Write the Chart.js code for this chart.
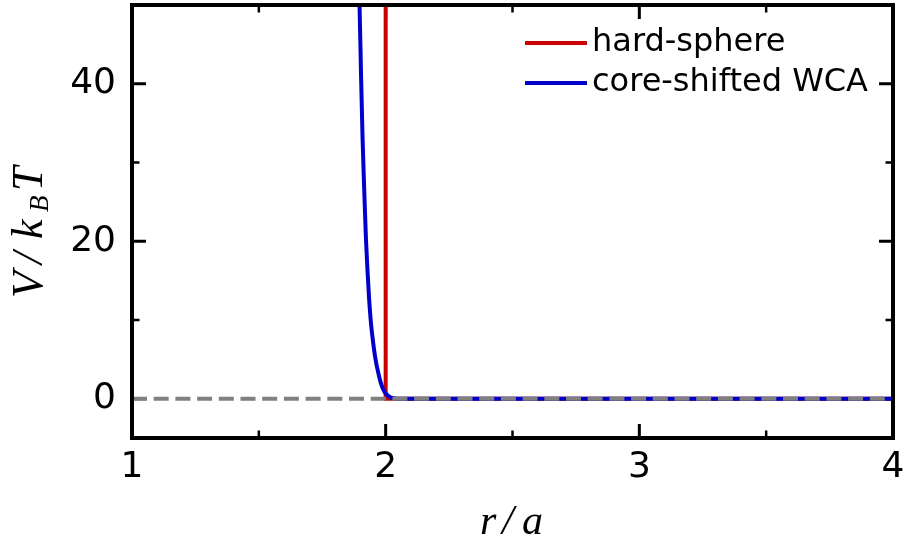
<!DOCTYPE html>
<html lang="en">
<head>
  <meta charset="UTF-8">
  <title>Pair potential</title>
  <script src="https://cdn.jsdelivr.net/npm/chart.js"></script>
  <style>
    html, body { margin: 0; padding: 0; background: #fff; }
    .wrap { width: 906px; height: 550px; }
  </style>
</head>
<body>
<div class="wrap"><canvas id="pot" width="906" height="550"></canvas></div>
<script>
// values
const hsR = [2, 2, 4];
const hsV = [60, 0, 0];

const wcaR = [1.888, 1.897, 1.903, 1.909, 1.916, 1.922, 1.928, 1.935, 1.942, 1.950, 1.960, 1.970, 1.980, 1.990, 2.000, 2.015, 2.030, 2.045, 4.0];
const wcaV = [58, 50, 41, 33, 26, 20.5, 16.5, 12.5, 9.6, 7.3, 5.0, 3.4, 2.1, 1.2, 0.65, 0.25, 0.06, 0, 0];

const zeroR = [1, 4];
const zeroV = [0, 0];

const xMajor = [1, 2, 3, 4];
const xMinor = [1.5, 2.5, 3.5];
const yMajor = [0, 20, 40];
const yMinor = [10, 30];

const pts = (xs, ys) => xs.map((x, i) => ({ x: x, y: ys[i] }));

// draws one glyph after another with fixed advances (mathtext-like spacing)
function spaced(ctx, parts, x0, y0) {
  let x = x0;
  parts.forEach(p => {
    ctx.font = p.font;
    ctx.fillText(p.t, x, y0 + (p.dy || 0));
    x += p.adv;
  });
}

// inward ticks on all four sides + full frame
const frame = {
  id: 'frame',
  beforeDatasetsDraw(chart) {
    const ctx = chart.ctx, a = chart.chartArea;
    const sx = chart.scales.x, sy = chart.scales.y;
    ctx.save();
    ctx.strokeStyle = '#000';
    ctx.lineCap = 'butt';
    const tickX = (vals, len, w) => {
      ctx.lineWidth = w;
      vals.forEach(v => {
        const px = sx.getPixelForValue(v);
        if (px > a.left + 1 && px < a.right - 1) {
          ctx.beginPath();
          ctx.moveTo(px, a.bottom); ctx.lineTo(px, a.bottom - len);
          ctx.moveTo(px, a.top); ctx.lineTo(px, a.top + len);
          ctx.stroke();
        }
      });
    };
    const tickY = (vals, len, w) => {
      ctx.lineWidth = w;
      vals.forEach(v => {
        const py = sy.getPixelForValue(v);
        ctx.beginPath();
        ctx.moveTo(a.left, py); ctx.lineTo(a.left + len, py);
        ctx.moveTo(a.right, py); ctx.lineTo(a.right - len, py);
        ctx.stroke();
      });
    };
    tickX(xMajor, 14, 3);
    tickX(xMinor, 7.5, 2.5);
    tickY(yMajor, 14, 3);
    tickY(yMinor, 7.5, 2.5);
    ctx.restore();
  },
  afterDatasetsDraw(chart) {
    const ctx = chart.ctx, a = chart.chartArea;
    ctx.save();
    ctx.strokeStyle = '#000';
    ctx.lineWidth = 4;
    ctx.strokeRect(a.left, a.top, a.right - a.left, a.bottom - a.top);
    ctx.restore();
  },
  afterDraw(chart) {
    const ctx = chart.ctx, a = chart.chartArea;
    ctx.save();
    ctx.fillStyle = '#000';
    ctx.textBaseline = 'alphabetic';
    ctx.textAlign = 'left';

    // x title  r/a
    const xf = 'italic 42px "Liberation Serif"';
    spaced(ctx, [
      { t: 'r', font: xf, adv: 22 },
      { t: '/', font: xf, adv: 20 },
      { t: 'a', font: xf, adv: 22 }
    ], 480, 534);

    // y title  V/k_B T, rotated
    const big = 'italic 44px "Liberation Serif"';
    const small = 'italic 27px "Liberation Serif"';
    ctx.translate(42, 229);
    ctx.rotate(-Math.PI / 2);
    spaced(ctx, [
      { t: 'V', font: big, adv: 34 },
      { t: '/', font: big, adv: 25 },
      { t: 'k', font: big, adv: 27 },
      { t: 'B', font: small, dy: 6, adv: 21 },
      { t: 'T', font: big, adv: 30 }
    ], -69, 0);
    ctx.restore();

    // legend from dataset labels
    ctx.save();
    ctx.font = '32px "DejaVu Sans"';
    ctx.textAlign = 'left';
    ctx.textBaseline = 'middle';
    [0, 1].forEach((i, k) => {
      const ds = chart.data.datasets[i];
      const y = 43 + k * 40;
      ctx.strokeStyle = ds.borderColor;
      ctx.lineWidth = 4;
      ctx.beginPath();
      ctx.moveTo(525, y); ctx.lineTo(587, y);
      ctx.stroke();
      ctx.fillStyle = '#000';
      ctx.fillText(ds.label, 592, y);
    });
    ctx.restore();
  }
};

new Chart(document.getElementById('pot').getContext('2d'), {
  type: 'line',
  data: {
    datasets: [
      {
        label: 'hard-sphere',
        data: pts(hsR, hsV),
        borderColor: '#cc0000',
        borderWidth: 4,
        pointRadius: 0,
        fill: false,
        order: 3
      },
      {
        label: 'core-shifted WCA',
        data: pts(wcaR, wcaV),
        borderColor: '#0000cc',
        borderWidth: 4,
        pointRadius: 0,
        cubicInterpolationMode: 'monotone',
        fill: false,
        order: 2
      },
      {
        label: 'zero',
        data: pts(zeroR, zeroV),
        borderColor: '#808080',
        borderWidth: 4,
        borderDash: [15, 6.7],
        pointRadius: 0,
        fill: false,
        order: 1
      }
    ]
  },
  options: {
    responsive: false,
    animation: false,
    layout: { padding: { top: 5, right: 13, left: 0, bottom: 0 } },
    plugins: {
      legend: { display: false },
      tooltip: { enabled: false }
    },
    scales: {
      x: {
        type: 'linear',
        min: 1,
        max: 4,
        grid: { display: false, drawTicks: false },
        border: { display: false },
        afterBuildTicks: s => { s.ticks = xMajor.map(v => ({ value: v })); },
        afterFit: s => { s.height = 112; s.paddingLeft = 0; s.paddingRight = 0; },
        ticks: {
          color: '#000',
          padding: 8,
          maxRotation: 0,
          font: { family: 'DejaVu Sans', size: 36 }
        }
      },
      y: {
        type: 'linear',
        min: -5,
        max: 50,
        grid: { display: false, drawTicks: false },
        border: { display: false },
        afterBuildTicks: s => { s.ticks = yMajor.map(v => ({ value: v })); },
        afterFit: s => { s.width = 132; s.paddingTop = 0; s.paddingBottom = 0; },
        ticks: {
          color: '#000',
          padding: 16,
          font: { family: 'DejaVu Sans', size: 36 }
        }
      }
    }
  },
  plugins: [frame]
});
</script>
</body>
</html>
